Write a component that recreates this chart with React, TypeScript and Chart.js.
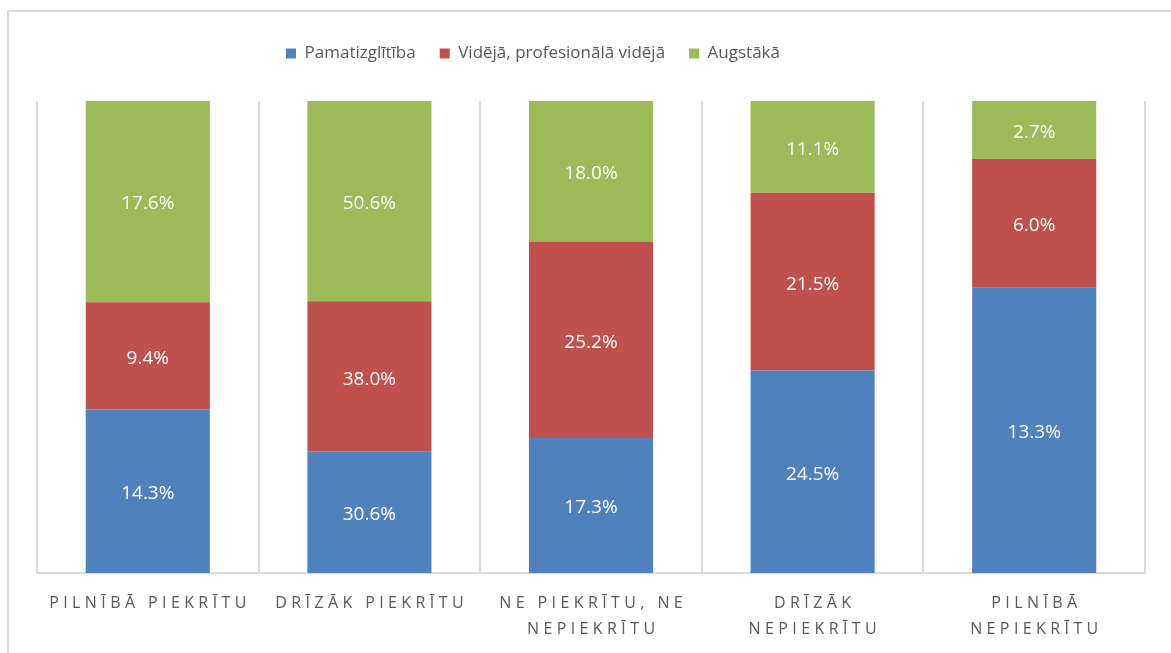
import React, { useEffect, useRef } from 'react';
import { Chart, registerables } from 'chart.js';

Chart.register(...registerables);

// ---- data ----
const categories: string[][] = [
  ['PILNĪBĀ PIEKRĪTU'],
  ['DRĪZĀK PIEKRĪTU'],
  ['NE PIEKRĪTU, NE', 'NEPIEKRĪTU'],
  ['DRĪZĀK', 'NEPIEKRĪTU'],
  ['PILNĪBĀ', 'NEPIEKRĪTU'],
];
const seriesNames = ['Pamatizglītība', 'Vidējā, profesionālā vidējā', 'Augstākā'];
const pamatizglitiba = [14.3, 30.6, 17.3, 24.5, 13.3];
const videja = [9.4, 38.0, 25.2, 21.5, 6.0];
const augstaka = [17.6, 50.6, 18.0, 11.1, 2.7];
const seriesColors = ['#4F81BD', '#C0504D', '#9BBB59'];

const LABEL_SPACING = 4.4;
const LEGEND_SHIFT = -58;

const valueLabels = {
  id: 'valueLabels',
  afterDatasetsDraw(chart: any) {
    const ctx = chart.ctx;
    ctx.save();
    ctx.font = '19px "Open Sans"';
    ctx.fillStyle = '#ffffff';
    ctx.textAlign = 'center';
    ctx.textBaseline = 'middle';
    chart.data.datasets.forEach((ds: any, di: number) => {
      const meta = chart.getDatasetMeta(di);
      meta.data.forEach((el: any, i: number) => {
        const p = el.getCenterPoint();
        ctx.fillText(ds.rawValues[i].toFixed(1) + '%', p.x, p.y + 2.5);
      });
    });
    ctx.restore();
  },
};

const spacedXLabels = {
  id: 'spacedXLabels',
  afterDraw(chart: any) {
    const ctx = chart.ctx;
    const scale = chart.scales.x;
    ctx.save();
    ctx.font = '16px "Open Sans"';
    ctx.fillStyle = '#595959';
    ctx.textAlign = 'center';
    ctx.textBaseline = 'alphabetic';
    ctx.letterSpacing = LABEL_SPACING + 'px';
    chart.data.labels.forEach((lab: any, i: number) => {
      const x = scale.getPixelForValue(i);
      const lines = Array.isArray(lab) ? lab : [lab];
      lines.forEach((line: string, j: number) => {
        ctx.fillText(line, x + LABEL_SPACING / 2, chart.chartArea.bottom + 34.5 + j * 26.5);
      });
    });
    ctx.restore();
  },
};

const legendSpacer = {
  id: 'legendSpacer',
  beforeInit(chart: any) {
    const legend = chart.legend;
    if (!legend) return;
    const orig = legend.fit;
    legend.fit = function () {
      orig.call(this);
      this.height += 29;
    };
  },
  afterLayout(chart: any) {
    const legend = chart.legend;
    if (!legend) return;
    legend.left += LEGEND_SHIFT;
    legend.right += LEGEND_SHIFT;
  },
};

export default function App() {
  const canvasRef = useRef<HTMLCanvasElement | null>(null);

  useEffect(() => {
    const canvas = canvasRef.current;
    if (!canvas) return;
    const series = [pamatizglitiba, videja, augstaka];
    const totals = categories.map((_, i) => series.reduce((s, arr) => s + arr[i], 0));
    const chart = new Chart(canvas, {
      type: 'bar',
      data: {
        labels: categories,
        datasets: series.map((arr, si) => ({
          label: seriesNames[si],
          data: arr.map((v, i) => (v / totals[i]) * 100),
          rawValues: arr,
          backgroundColor: seriesColors[si],
          borderWidth: 0,
          categoryPercentage: 1,
          barPercentage: 0.56,
        })) as any,
      },
      options: {
        responsive: true,
        maintainAspectRatio: false,
        animation: false,
        layout: { padding: { left: 37, right: 26, top: 21, bottom: 80 } },
        plugins: {
          legend: {
            position: 'top',
            labels: {
              boxWidth: 10,
              boxHeight: 10,
              padding: 24,
              color: '#595959',
              font: { family: 'Open Sans', size: 17 },
            },
          },
          tooltip: { enabled: false },
        },
        scales: {
          x: {
            stacked: true,
            grid: { offset: true, color: '#d9d9d9', lineWidth: 2, drawTicks: false },
            border: { color: '#d9d9d9', width: 2 },
            ticks: { display: false },
          },
          y: { stacked: true, display: false, min: 0, max: 100 },
        },
      },
      plugins: [legendSpacer, valueLabels, spacedXLabels],
    } as any);
    return () => chart.destroy();
  }, []);

  return (
    <div style={{ position: 'fixed', left: 0, top: 0, width: 1171, height: 653, overflow: 'hidden', background: '#fff' }}>
      <div
        style={{
          position: 'absolute',
          left: 7,
          top: 10,
          width: 1200,
          height: 700,
          borderTop: '2px solid #d9d9d9',
          borderLeft: '2px solid #d9d9d9',
        }}
      />
      <div style={{ position: 'absolute', left: 0, top: 0, width: 1171, height: 653 }}>
        <canvas ref={canvasRef} />
      </div>
    </div>
  );
}
